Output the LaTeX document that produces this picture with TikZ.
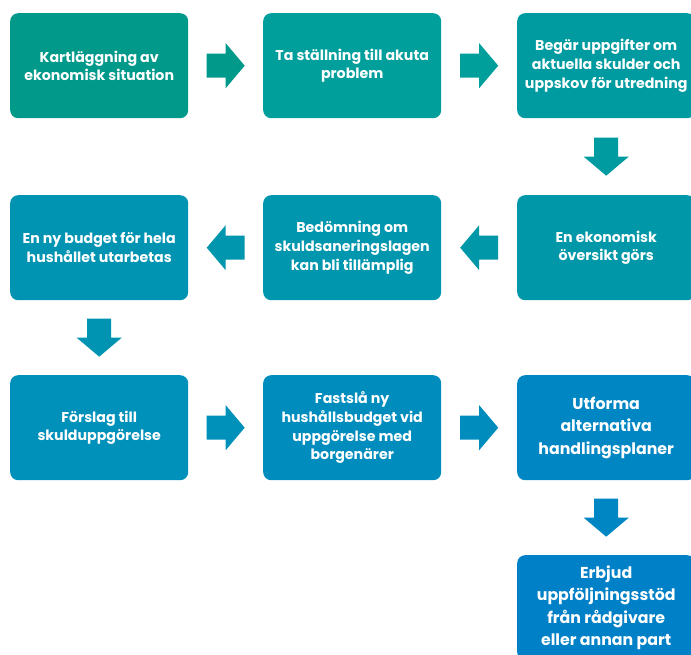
\documentclass[tikz,border=0pt]{standalone}
\usepackage{fontspec}
\setmainfont{Poppins}[BoldFont={Poppins Bold}]
\usetikzlibrary{calc}
\definecolor{c1}{HTML}{00998A}
\definecolor{c2}{HTML}{009F9C}
\definecolor{c3}{HTML}{009BA0}
\definecolor{c4}{HTML}{0098A8}
\definecolor{c5}{HTML}{0096AD}
\definecolor{c6}{HTML}{0094B2}
\definecolor{c7}{HTML}{0091BA}
\definecolor{c8}{HTML}{008DBE}
\definecolor{c9}{HTML}{0086C3}
\definecolor{c10}{HTML}{0080C6}
\tikzset{
  box/.style={anchor=north west, minimum width=178pt, minimum height=105pt, inner sep=0pt,
    rounded corners=8pt, text=white, align=center,
    font=\bfseries\fontsize{14.2}{18.6}\selectfont},
  bigbox/.style={box, font=\bfseries\fontsize{15.8}{22.3}\selectfont}
}
\newcommand{\flowarrow}[4]{% from anchor, to anchor, colour, angle
  \fill[#3, shift={($(#1)!0.5!(#2)$)}, rotate=#4]
    (-19,-12) -- (0,-12) -- (0,-22.5) -- (19,0) -- (0,22.5) -- (0,12) -- (-19,12) -- cycle;}
\begin{document}
\begin{tikzpicture}[x=1pt,y=-1pt]
\useasboundingbox (0,0) rectangle (691,655);
\clip (0,0) rectangle (691,655);
% row 1
\node[box, fill=c1] (b1) at (10,13) {Kartläggning av\\ekonomisk situation};
\node[box, fill=c2] (b2) at (263,13) {Ta ställning till akuta\\problem};
\node[box, fill=c3] (b3) at (517,13) {Begär uppgifter om\\aktuella skulder och\\uppskov för utredning};
% row 2
\node[box, fill=c4] (b4) at (517,195) {En ekonomisk\\översikt görs};
\node[box, fill=c5] (b5) at (263,195) {Bedömning om\\skuldsaneringslagen\\kan bli tillämplig};
\node[box, fill=c6] (b6) at (10,195) {En ny budget för hela\\hushållet utarbetas};
% row 3
\node[box, fill=c7] (b7) at (10,375) {Förslag till\\skulduppgörelse};
\node[box, fill=c8] (b8) at (263,375) {Fastslå ny\\hushållsbudget vid\\uppgörelse med\\borgenärer};
\node[bigbox, fill=c9] (b9) at (517,375) {Utforma\\alternativa\\handlingsplaner};
% row 4
\node[bigbox, fill=c10] (b10) at (517,555) {Erbjud\\uppföljningsstöd\\från rådgivare\\eller annan part};
% connectors
\flowarrow{b1.east}{b2.west}{c1}{0}
\flowarrow{b2.east}{b3.west}{c2}{0}
\flowarrow{b3.south}{b4.north}{c3}{-90}
\flowarrow{b4.west}{b5.east}{c4}{180}
\flowarrow{b5.west}{b6.east}{c5}{180}
\flowarrow{b6.south}{b7.north}{c6}{-90}
\flowarrow{b7.east}{b8.west}{c7}{0}
\flowarrow{b8.east}{b9.west}{c8}{0}
\flowarrow{b9.south}{b10.north}{c9}{-90}
\end{tikzpicture}
\end{document}
